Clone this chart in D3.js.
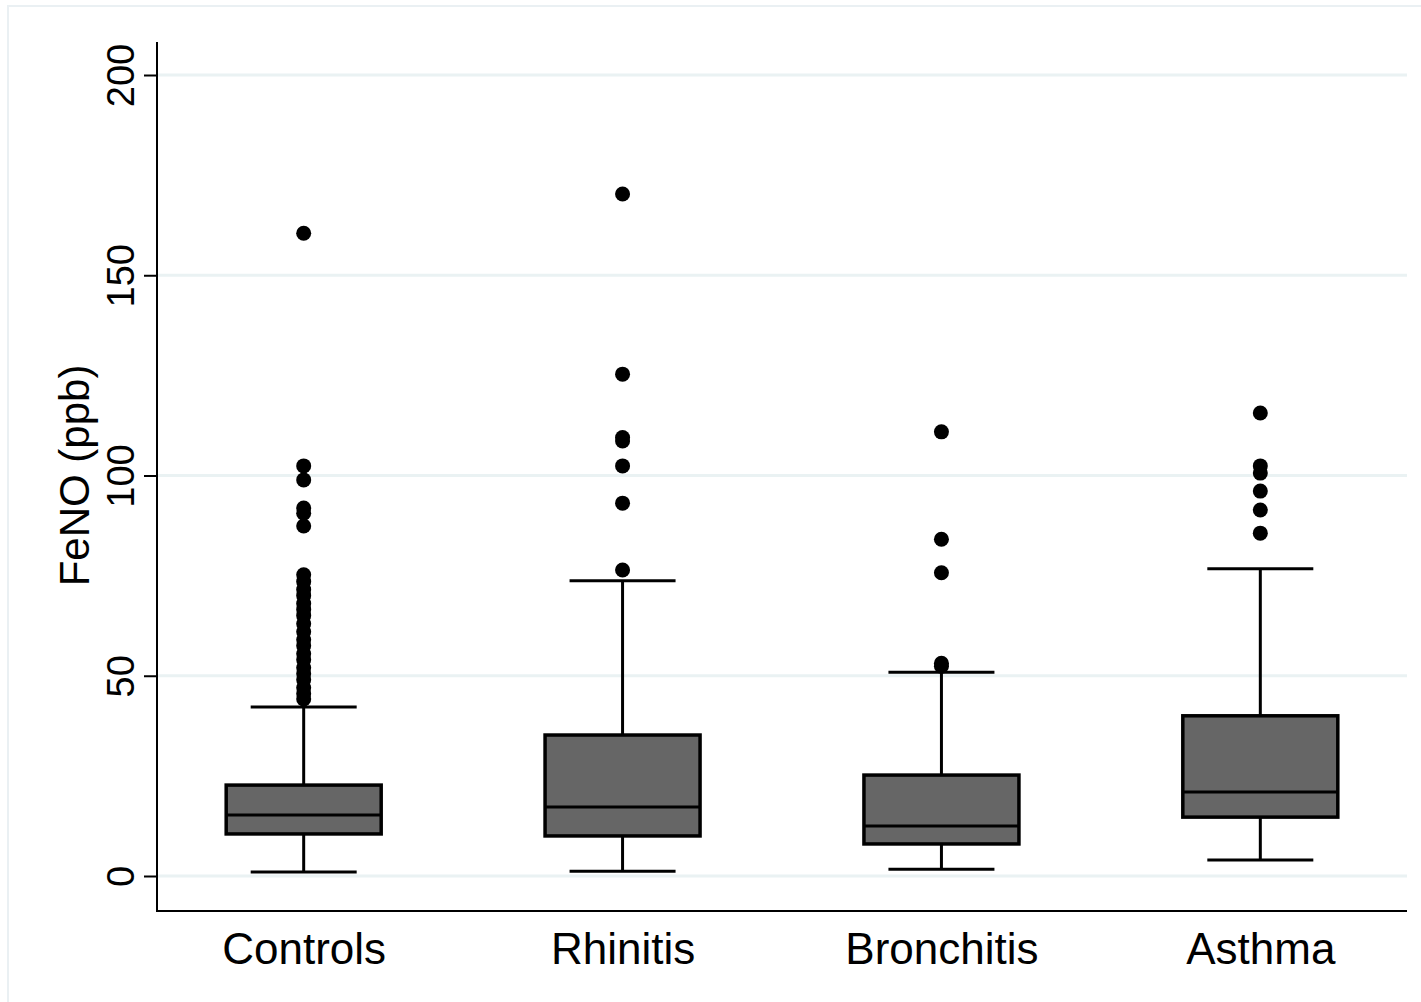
<!DOCTYPE html>
<html>
<head>
<meta charset="utf-8">
<script src="https://cdn.jsdelivr.net/npm/d3@7"></script>
<style>
  body { margin: 0; background: #fff; }
  text { font-family: "Liberation Sans", Arial, sans-serif; fill: #000; }
</style>
</head>
<body>
<div id="chart"></div>
<script>
// Chart data
var groups = ["Controls", "Rhinitis", "Bronchitis", "Asthma"];
var lowWhisker = [1, 1.2, 1.7, 4];
var q1 = [10.5, 10, 8, 14.7];
var medians = [15.2, 17.2, 12.5, 21];
var q3 = [22.7, 35.2, 25.2, 40];
var highWhisker = [42.2, 73.7, 50.9, 76.7];
var outliers = [
  [160.5, 102.4, 98.9, 91.9, 90.6, 87.4, 75.2, 73.5, 71.5, 70, 68, 66.5, 65, 63, 61, 59, 57.5, 55.5, 54, 52, 50.5, 49, 47, 45.5, 44.2],
  [170.3, 125.3, 109.5, 108.6, 102.4, 93.1, 76.4],
  [110.9, 84.1, 75.7, 53.1, 52.4],
  [115.6, 102.4, 100.6, 96.1, 91.4, 85.6]
];
var yTicks = [0, 50, 100, 150, 200];

var svgWidth = 1421;
var svgHeight = 1002;

var svg = d3.select("#chart")
  .append("svg")
  .attr("width", svgWidth)
  .attr("height", svgHeight);

// light outer frame
svg.append("rect")
  .attr("x", 8).attr("y", 6)
  .attr("width", 1430).attr("height", 1010)
  .attr("fill", "none")
  .attr("stroke", "#eaf0f3")
  .attr("stroke-width", 2);

var plotLeft = 157, plotRight = 1407, plotTop = 42, plotBottom = 911;

var xScale = d3.scalePoint()
  .domain(groups)
  .range([plotLeft, plotRight])
  .padding(0.46);

var yScale = d3.scaleLinear()
  .domain([0, 200])
  .range([876, 75]);

// grid lines
svg.append("g")
  .selectAll("line")
  .data(yTicks)
  .enter()
  .append("line")
  .attr("x1", plotLeft)
  .attr("x2", plotRight)
  .attr("y1", d => yScale(d))
  .attr("y2", d => yScale(d))
  .attr("stroke", "#eaf2f3")
  .attr("stroke-width", 3);

// y axis
var leftAxis = d3.axisLeft(yScale)
  .tickValues(yTicks)
  .tickSize(13);

var yAxis = svg.append("g")
  .attr("transform", `translate(${plotLeft}, 0)`)
  .call(leftAxis);
yAxis.select(".domain").remove();
yAxis.selectAll(".tick line").attr("stroke", "#000").attr("stroke-width", 2);
yAxis.selectAll(".tick text")
  .attr("font-size", 38)
  .attr("transform", "rotate(-90)")
  .attr("x", 0)
  .attr("y", -23)
  .attr("text-anchor", "middle")
  .attr("dy", "0");

// axis lines
svg.append("line")
  .attr("x1", plotLeft).attr("x2", plotLeft)
  .attr("y1", plotTop).attr("y2", plotBottom + 1)
  .attr("stroke", "#000").attr("stroke-width", 2);
svg.append("line")
  .attr("x1", plotLeft).attr("x2", plotRight)
  .attr("y1", plotBottom).attr("y2", plotBottom)
  .attr("stroke", "#000").attr("stroke-width", 2);

// x labels
var bottomAxis = d3.axisBottom(xScale).tickSize(0).tickPadding(22);
var xAxis = svg.append("g")
  .attr("transform", `translate(0, ${plotBottom})`)
  .call(bottomAxis);
xAxis.select(".domain").remove();
xAxis.selectAll(".tick text").attr("font-size", 44).attr("dy", "0.71em");

// y axis title
svg.append("text")
  .attr("transform", `translate(89, ${yScale(100)}) rotate(-90)`)
  .attr("text-anchor", "middle")
  .attr("font-size", 42)
  .text("FeNO (ppb)");

var boxWidth = 155;
var capWidth = 106;

var boxes = svg.selectAll(".box")
  .data(groups)
  .enter()
  .append("g")
  .attr("class", "box");

// whiskers
boxes.append("line")
  .attr("x1", d => xScale(d)).attr("x2", d => xScale(d))
  .attr("y1", (d, i) => yScale(lowWhisker[i]))
  .attr("y2", (d, i) => yScale(q1[i]))
  .attr("stroke", "#000").attr("stroke-width", 3);
boxes.append("line")
  .attr("x1", d => xScale(d)).attr("x2", d => xScale(d))
  .attr("y1", (d, i) => yScale(highWhisker[i]))
  .attr("y2", (d, i) => yScale(q3[i]))
  .attr("stroke", "#000").attr("stroke-width", 3);

// caps
boxes.append("line")
  .attr("x1", d => xScale(d) - capWidth / 2).attr("x2", d => xScale(d) + capWidth / 2)
  .attr("y1", (d, i) => yScale(lowWhisker[i]))
  .attr("y2", (d, i) => yScale(lowWhisker[i]))
  .attr("stroke", "#000").attr("stroke-width", 3);
boxes.append("line")
  .attr("x1", d => xScale(d) - capWidth / 2).attr("x2", d => xScale(d) + capWidth / 2)
  .attr("y1", (d, i) => yScale(highWhisker[i]))
  .attr("y2", (d, i) => yScale(highWhisker[i]))
  .attr("stroke", "#000").attr("stroke-width", 3);

// box
boxes.append("rect")
  .attr("x", d => xScale(d) - boxWidth / 2)
  .attr("width", boxWidth)
  .attr("y", (d, i) => yScale(q3[i]))
  .attr("height", (d, i) => yScale(q1[i]) - yScale(q3[i]))
  .attr("fill", "#666666")
  .attr("stroke", "#000")
  .attr("stroke-width", 3.5);

// median
boxes.append("line")
  .attr("x1", d => xScale(d) - boxWidth / 2).attr("x2", d => xScale(d) + boxWidth / 2)
  .attr("y1", (d, i) => yScale(medians[i]))
  .attr("y2", (d, i) => yScale(medians[i]))
  .attr("stroke", "#000").attr("stroke-width", 3);

// outliers
boxes.selectAll("circle")
  .data((d, i) => outliers[i].map(v => ({ g: d, v: v })))
  .enter()
  .append("circle")
  .attr("cx", d => xScale(d.g))
  .attr("cy", d => yScale(d.v))
  .attr("r", 7.5)
  .attr("fill", "#000");
</script>
</body>
</html>
